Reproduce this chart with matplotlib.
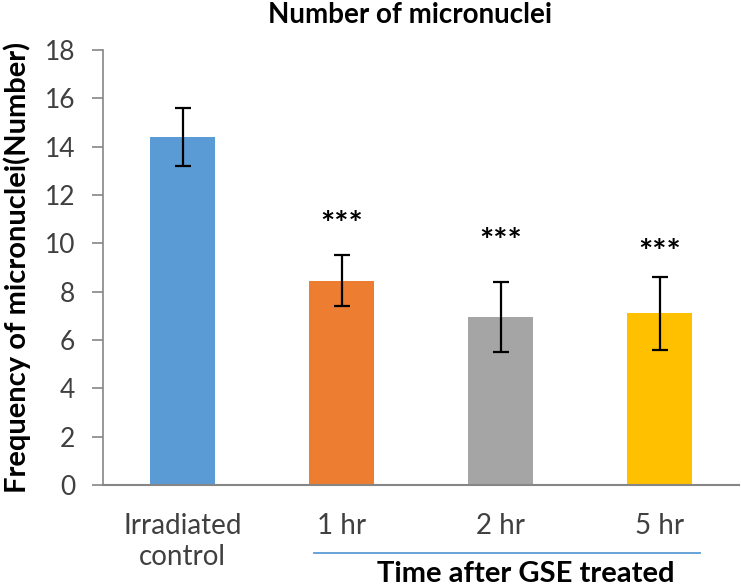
import numpy as np
import matplotlib.pyplot as plt
from matplotlib.lines import Line2D

groups = ["Irradiated\ncontrol", "1 hr", "2 hr", "5 hr"]
means = [14.4, 8.45, 6.95, 7.1]
errors = [1.2, 1.05, 1.45, 1.5]
stars = ["", "***", "***", "***"]
star_y = [0, 10.35, 9.65, 9.2]
colors = ["#5B9BD5", "#ED7D31", "#A5A5A5", "#FFC000"]

plt.rcParams['font.family'] = ['Lato', 'DejaVu Sans']

if __name__ == "__main__":
    fig = plt.figure(figsize=(7.41, 5.88), dpi=100)
    ax = fig.add_axes([103 / 741, 1 - 485 / 588, 636 / 741, 435 / 588])
    x = np.arange(len(groups))
    ax.bar(x, means, width=0.415, color=colors, zorder=2)
    ax.errorbar(x, means, yerr=errors, fmt="none", ecolor="black",
                elinewidth=1.6, capsize=6, capthick=1.6, zorder=3)
    for xi, s, sy in zip(x, stars, star_y):
        if s:
            ax.text(xi, sy, s, ha="center", va="baseline", fontsize=24,
                    fontweight="bold", color="black")

    ax.set_xlim(-0.5, 3.5)
    ax.set_ylim(0, 18)
    ax.set_yticks(np.arange(0, 19, 2))
    ax.set_xticks(x)
    ax.set_xticklabels(groups, fontsize=20, color="#404040", linespacing=1.25)
    ax.tick_params(axis="x", length=0, pad=20)
    ax.tick_params(axis="y", length=8, width=1.2, color="#868686",
                   labelsize=19, labelcolor="#404040", pad=12)
    for side in ["top", "right"]:
        ax.spines[side].set_visible(False)
    ax.spines["left"].set_color("#868686")
    ax.spines["left"].set_linewidth(1.2)
    ax.spines["bottom"].set_color("#868686")
    ax.spines["bottom"].set_linewidth(1.5)

    ax.set_ylabel("Frequency of micronuclei(Number)", fontsize=21,
                  fontweight="bold", labelpad=10)
    fig.text(410 / 741, 1 - 15 / 588, "Number of micronuclei", ha="center",
             va="center", fontsize=20, fontweight="bold")

    fig.add_artist(Line2D([314 / 741, 700 / 741], [1 - 553 / 588, 1 - 553 / 588],
                          color="#5B9BD5", linewidth=1.3))
    fig.text(526 / 741, 1 - 587 / 588, "Time after GSE treated", ha="center",
             va="bottom", fontsize=21, fontweight="bold")

    fig.savefig("out.png", dpi=100)
